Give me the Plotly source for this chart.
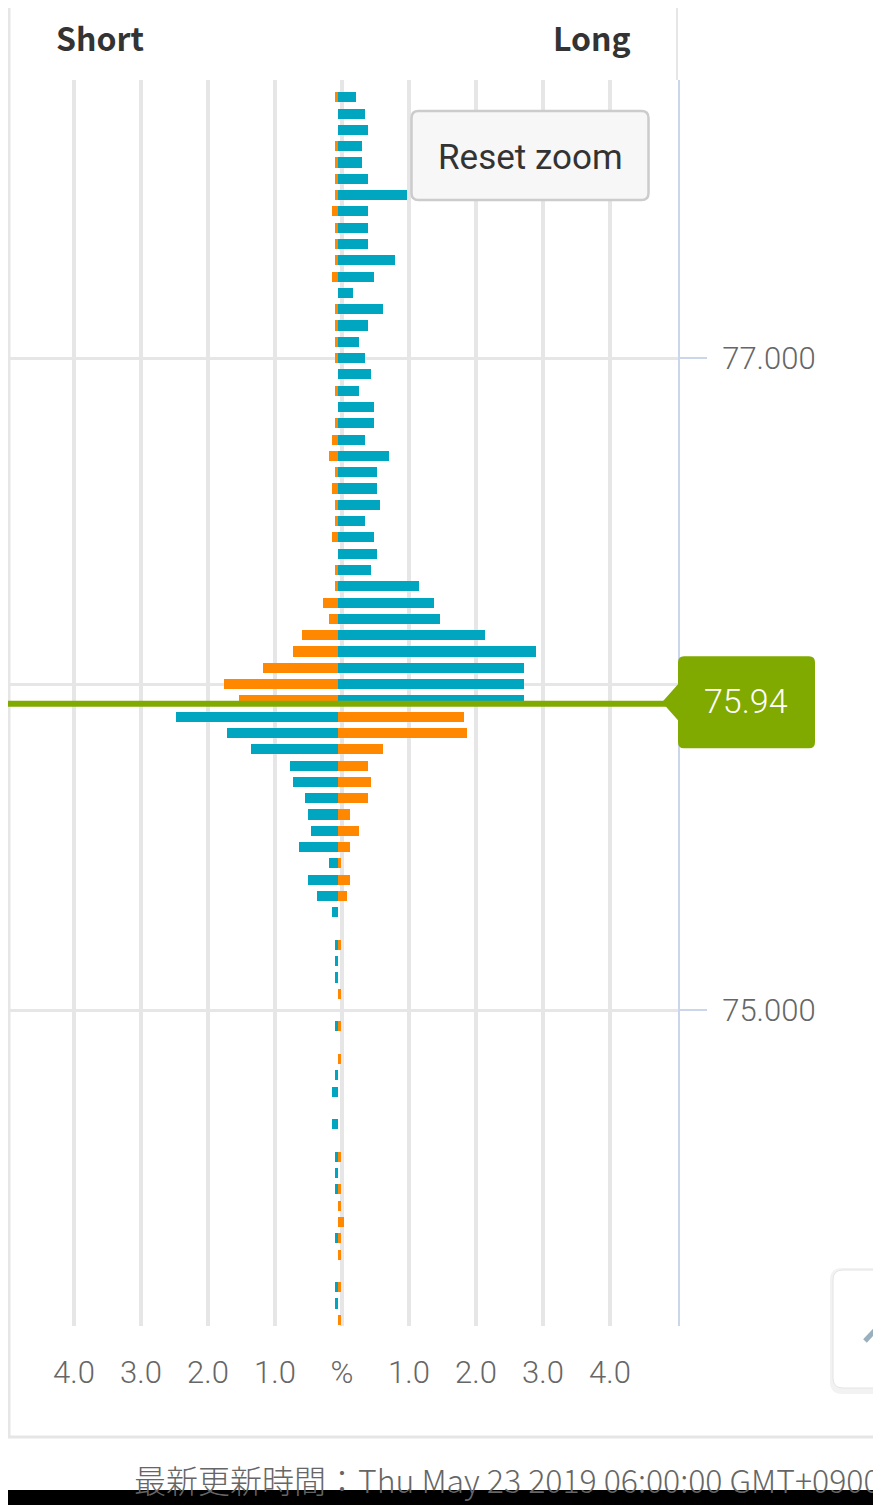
import plotly.graph_objects as go

# ---------------- data ----------------
prices = [77.80, 77.75, 77.70, 77.65, 77.60, 77.55, 77.50, 77.45, 77.40, 77.35,
          77.30, 77.25, 77.20, 77.15, 77.10, 77.05, 77.00, 76.95, 76.90, 76.85,
          76.80, 76.75, 76.70, 76.65, 76.60, 76.55, 76.50, 76.45, 76.40, 76.35,
          76.30, 76.25, 76.20, 76.15, 76.10, 76.05, 76.00, 75.95, 75.90, 75.85,
          75.80, 75.75, 75.70, 75.65, 75.60, 75.55, 75.50, 75.45, 75.40, 75.35,
          75.30, 75.20, 75.15, 75.10, 75.05, 74.95, 74.85, 74.80, 74.75, 74.65,
          74.55, 74.50, 74.45, 74.40, 74.35, 74.30, 74.25, 74.15, 74.10, 74.05]

blue_pct = [0.27, 0.40, 0.45, 0.36, 0.36, 0.45, 1.03, 0.45, 0.45, 0.45,
            0.85, 0.54, 0.22, 0.67, 0.45, 0.31, 0.40, 0.49, 0.31, 0.54,
            0.54, 0.40, 0.76, 0.58, 0.58, 0.63, 0.40, 0.54, 0.58, 0.49,
            1.21, 1.43, 1.52, 2.19, 2.96, 2.78, 2.78, 2.78, -2.42, -1.66,
            -1.30, -0.72, -0.67, -0.49, -0.45, -0.40, -0.58, -0.13, -0.45, -0.31,
            -0.09, -0.05, -0.05, -0.05, 0.0, -0.05, 0.0, -0.05, -0.09, -0.09,
            -0.05, -0.05, -0.05, 0.0, 0.0, -0.05, 0.0, -0.05, -0.05, 0.0]

orange_pct = [-0.05, 0.0, 0.0, -0.05, -0.05, -0.05, -0.05, -0.09, -0.05, -0.05,
              -0.05, -0.09, 0.0, -0.05, -0.05, -0.05, -0.05, 0.0, -0.05, 0.0,
              -0.05, -0.09, -0.13, -0.05, -0.09, -0.05, -0.05, -0.09, 0.0, -0.05,
              -0.05, -0.22, -0.13, -0.54, -0.67, -1.12, -1.70, -1.48, 1.88, 1.93,
              0.67, 0.45, 0.49, 0.45, 0.18, 0.31, 0.18, 0.05, 0.18, 0.13,
              0.0, 0.05, 0.0, 0.0, 0.05, 0.05, 0.05, 0.0, 0.0, 0.0,
              0.05, 0.0, 0.05, 0.05, 0.09, 0.05, 0.05, 0.05, 0.0, 0.05]

current_price = 75.94
x_tick_vals = [-3.94, -2.94, -1.94, -0.94, 0.06, 1.06, 2.06, 3.06, 4.06]
x_tick_text = ["4.0", "3.0", "2.0", "1.0", "%", "1.0", "2.0", "3.0", "4.0"]
y_tick_vals = [75, 76, 77]
footer_text = "最新更新時間：Thu May 23 2019 06:00:00 GMT+0900 (日本標準時)"

# ---------------- layout geometry ----------------
# the page body has an 8px margin, so screen px = figure px + 8
OFF = 8
W, H = 881 - OFF, 1505 - OFF
SL, SR, ST, SB = 8, 678, 80, 1326          # plot area in screen pixels
PL, PR, PT, PB = SL - OFF, SR - OFF, ST - OFF, SB - OFF
BLUE = "#00a6bf"
ORANGE = "#ff8800"
GREEN = "#80aa00"
GRID = "#e6e6e6"


def px(xs):
    return (xs - SL) / (SR - SL)


def py(ys):
    return (SB - ys) / (SB - ST)


def rrect(w, h, r):
    hw, hh = w / 2, h / 2
    return (f"M {-hw + r},{-hh} L {hw - r},{-hh} Q {hw},{-hh} {hw},{-hh + r} "
            f"L {hw},{hh - r} Q {hw},{hh} {hw - r},{hh} L {-hw + r},{hh} "
            f"Q {-hw},{hh} {-hw},{hh - r} L {-hw},{-hh + r} Q {-hw},{-hh} {-hw + r},{-hh} Z")


fig = go.Figure()
fig.add_trace(go.Bar(y=prices, x=blue_pct, orientation="h", width=0.031,
                     marker=dict(color=BLUE, line=dict(width=0)),
                     hoverinfo="skip", showlegend=False))
fig.add_trace(go.Bar(y=prices, x=orange_pct, orientation="h", width=0.031,
                     marker=dict(color=ORANGE, line=dict(width=0)),
                     hoverinfo="skip", showlegend=False))

tick_font = dict(family="Roboto", size=31, color="#666666", weight=300)

fig.update_layout(
    width=W, height=H,
    margin=dict(l=PL, r=W - PR, t=PT, b=H - PB, pad=0),
    paper_bgcolor="white", plot_bgcolor="white",
    barmode="relative", bargap=0,
    showlegend=False,
    xaxis=dict(range=[(SL - 338) / 67.0, (SR - 338) / 67.0], tickvals=x_tick_vals,
               ticktext=x_tick_text, showgrid=True, gridcolor=GRID, gridwidth=4,
               zeroline=False, showline=False, ticks="outside", ticklen=19,
               tickcolor="rgba(0,0,0,0)", tickfont=tick_font, fixedrange=True),
    yaxis=dict(range=[74.031, 77.853], side="right", tickvals=y_tick_vals,
               tickformat=".3f", showgrid=True, gridcolor=GRID, gridwidth=3,
               zeroline=False, showline=True, linecolor="#ccd6eb", linewidth=2,
               ticks="outside", ticklen=27, tickwidth=2, tickcolor="#ccd6eb",
               ticklabelstandoff=9, tickfont=tick_font, fixedrange=True),
)

shapes = []
# container borders
shapes.append(dict(type="line", xref="paper", yref="paper", x0=px(9), x1=px(9),
                   y0=py(0), y1=py(1437), line=dict(color=GRID, width=3), layer="above"))
shapes.append(dict(type="line", xref="paper", yref="paper", x0=px(8), x1=px(885),
                   y0=py(1437), y1=py(1437), line=dict(color=GRID, width=3), layer="above"))
shapes.append(dict(type="line", xref="paper", yref="paper", x0=px(677), x1=px(677),
                   y0=py(0), y1=py(80), line=dict(color=GRID, width=2), layer="above"))
# current price line
shapes.append(dict(type="line", xref="paper", yref="y", x0=0, x1=1,
                   y0=current_price, y1=current_price,
                   line=dict(color=GREEN, width=6), layer="above"))
# callout for current price
cw, ch, cr = 137, 46, 6
callout = (f"M {cr},{-ch} L {cw - cr},{-ch} Q {cw},{-ch} {cw},{-ch + cr} "
           f"L {cw},{ch - cr} Q {cw},{ch} {cw - cr},{ch} L {cr},{ch} Q 0,{ch} 0,{ch - cr} "
           f"L 0,18 L -16,0 L 0,-18 L 0,{-ch + cr} Q 0,{-ch} {cr},{-ch} Z")
shapes.append(dict(type="path", xref="paper", yref="y", xsizemode="pixel",
                   ysizemode="pixel", xanchor=1.0, yanchor=current_price + 0.004,
                   path=callout, fillcolor=GREEN, line=dict(width=0), layer="above"))
# reset zoom button
shapes.append(dict(type="path", xref="paper", yref="paper", xsizemode="pixel",
                   ysizemode="pixel", xanchor=px(530), yanchor=py(155.5),
                   path=rrect(237, 89, 7), fillcolor="#f7f7f7",
                   line=dict(color="#cccccc", width=2.5), layer="above"))
# partial button at the right edge (with soft shadow)
shapes.append(dict(type="path", xref="paper", yref="paper", xsizemode="pixel",
                   ysizemode="pixel", xanchor=px(872), yanchor=py(1331),
                   path=rrect(84, 126, 12), fillcolor="rgba(0,0,0,0.05)",
                   line=dict(width=0), layer="above"))
shapes.append(dict(type="path", xref="paper", yref="paper", xsizemode="pixel",
                   ysizemode="pixel", xanchor=px(871), yanchor=py(1329),
                   path=rrect(76, 118, 10), fillcolor="white",
                   line=dict(color="#e4e4e4", width=1), layer="above"))
shapes.append(dict(type="line", xref="paper", yref="paper", x0=px(865), x1=px(878),
                   y0=py(1341), y1=py(1327), line=dict(color="#9ab0bd", width=5),
                   layer="above"))
# black bar at the bottom of the screenshot
shapes.append(dict(type="rect", xref="paper", yref="paper", x0=px(0), x1=px(890),
                   y0=py(1490), y1=py(1510), fillcolor="black", line=dict(width=0),
                   layer="above"))
fig.update_layout(shapes=shapes)

head_font = dict(family="Noto Sans CJK JP", size=32, color="#333333", weight="bold")
annotations = [
    dict(text="Short", xref="paper", yref="paper", x=px(54), y=py(37),
         xanchor="left", yanchor="middle", showarrow=False, font=head_font),
    dict(text="Long", xref="paper", yref="paper", x=px(633), y=py(37),
         xanchor="right", yanchor="middle", showarrow=False, font=head_font),
    dict(text="Reset zoom", xref="paper", yref="paper", x=px(530), y=py(157),
         xanchor="center", yanchor="middle", showarrow=False,
         font=dict(family="Roboto", size=35, color="#333333")),
    dict(text=f"{current_price:.2f}", xref="paper", yref="y", x=px(746),
         y=current_price, yshift=3, xanchor="center", yanchor="middle", showarrow=False,
         font=dict(family="Roboto", size=34, color="white", weight=300)),
    dict(text=footer_text, xref="paper", yref="paper", x=px(132), y=py(1479),
         xanchor="left", yanchor="middle", showarrow=False,
         font=dict(family="Noto Sans CJK JP", size=32, color="#666666", weight=300)),
]
fig.update_layout(annotations=annotations)

fig.write_html("out.html", config={"displayModeBar": False})
